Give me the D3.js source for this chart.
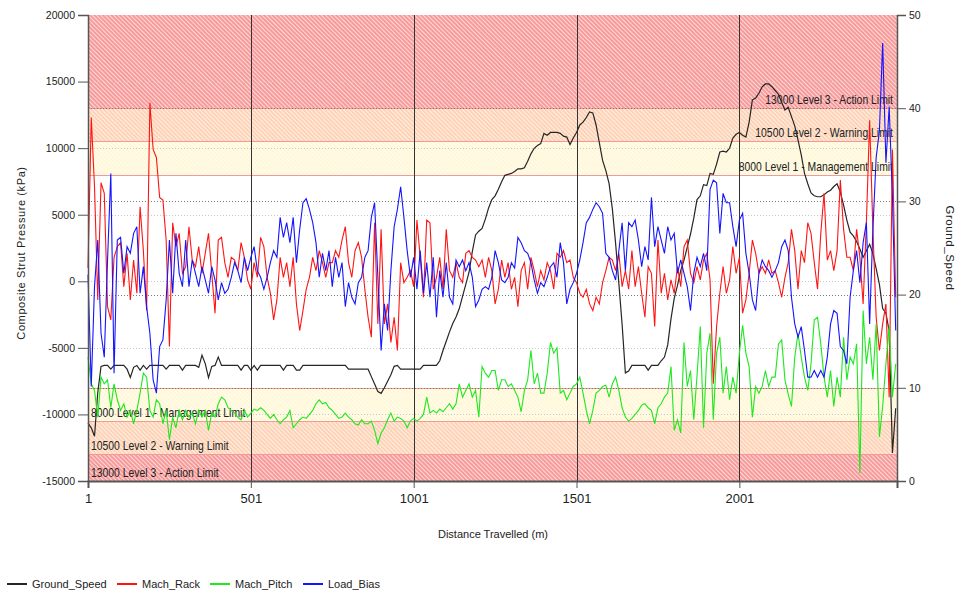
<!DOCTYPE html>
<html>
<head>
<meta charset="utf-8">
<script src="https://cdn.jsdelivr.net/npm/d3@7"></script>
<style>
  body { margin: 0; background: #fff; }
  svg text { font-family: "Liberation Sans", Arial, sans-serif; fill: #222; }
</style>
</head>
<body>
<svg width="957" height="594"></svg>
<script>
// Composite strut pressure log vs distance, with limit bands
// samples are every 10 m starting at 1
var startDistance = 1;
var sampleStep = 10;
var maxDistance = 2485;

var xTicks = [1, 501, 1001, 1501, 2001];
var leftTicks = [-15000, -10000, -5000, 0, 5000, 10000, 15000, 20000];
var rightTicks = [0, 10, 20, 30, 40, 50];

// limit levels (kPa) and their captions
var limitValues = [8000, 10500, 13000];
var limitLabels = ["8000 Level 1 - Management Limit", "10500 Level 2 - Warning Limit", "13000 Level 3 - Action Limit"];

var seriesNames = ["Ground_Speed", "Mach_Rack", "Mach_Pitch", "Load_Bias"];

// right axis series
var groundSpeed = [
  6.2, 5.7, 4.8, 9.5, 12.3, 12.4, 12.4, 12.0, 12.4, 12.4,
  12.4, 12.4, 12.0, 11.1, 12.2, 12.4, 11.9, 12.4, 12.0, 12.4,
  12.4, 12.4, 12.4, 12.4, 12.0, 12.4, 12.4, 12.4, 12.4, 11.9,
  12.4, 12.4, 12.4, 12.4, 12.2, 13.5, 12.6, 11.1, 12.3, 12.4,
  13.3, 12.4, 12.4, 12.4, 12.4, 12.4, 12.4, 11.9, 12.4, 12.4,
  11.9, 12.4, 11.9, 12.4, 12.4, 12.4, 12.4, 12.4, 12.4, 12.4,
  11.9, 12.4, 12.4, 12.4, 11.9, 11.9, 12.4, 12.4, 12.4, 12.4,
  12.4, 12.4, 12.4, 12.4, 12.4, 12.4, 12.4, 12.4, 12.4, 12.4,
  12.0, 12.0, 12.0, 12.0, 12.0, 12.0, 12.0, 11.2, 10.4, 9.6,
  9.4, 10.0, 10.7, 11.4, 12.3, 12.4, 12.0, 12.0, 12.0, 12.0,
  12.0, 12.0, 12.0, 12.4, 12.4, 12.4, 12.4, 12.4, 12.9, 14.0,
  15.0, 16.0, 16.9, 17.6, 18.5, 19.8, 21.1, 22.4, 24.6, 26.4,
  26.8, 27.1, 28.1, 29.3, 30.2, 30.6, 31.3, 32.1, 32.8, 32.9,
  33.0, 33.2, 33.5, 33.5, 33.6, 34.3, 35.1, 35.7, 36.0, 36.2,
  37.3, 37.1, 37.4, 37.4, 37.4, 37.3, 37.0, 36.9, 36.1, 36.8,
  37.4, 38.2, 38.5, 39.0, 39.6, 39.5, 38.2, 36.3, 34.4, 33.3,
  31.9, 29.2, 25.5, 21.2, 16.8, 11.6, 11.8, 12.4, 12.4, 12.4,
  12.4, 12.4, 11.9, 12.4, 12.4, 12.4, 12.9, 13.3, 14.6, 17.4,
  19.6, 21.0, 22.6, 23.7, 25.1, 26.5, 28.2, 30.2, 30.6, 31.8,
  31.7, 33.0, 32.9, 34.0, 35.3, 35.4, 35.3, 35.7, 36.8, 37.2,
  37.4, 37.1, 36.9, 38.5, 40.9, 41.1, 41.6, 42.3, 42.6, 42.6,
  42.3, 41.9, 41.5, 40.6, 39.8, 40.1, 39.1, 38.1, 36.6, 35.0,
  33.0, 31.9, 30.9, 30.6, 30.5, 30.5, 30.7, 31.0, 31.2, 31.6,
  31.9, 31.0, 29.6, 28.0, 26.7, 26.3, 25.7, 24.9, 24.0, 24.7,
  25.4, 24.4, 22.8, 21.1, 18.5, 18.0, 16.1, 3.0, 7.8
];

// left axis series (kPa)
var machRack = [
  1000, 12300, 7100, -1400, 7400, 6600, -1900, -2900, 1800, 2600,
  2900, -400, 2100, -1400, 1600, -900, 5600, 2300, -2200, 13400,
  9900, 9300, 6300, 6100, 3100, -4900, 4400, 2600, 3600, 600,
  1100, 4100, 1600, 1100, 2600, 600, 2100, 3600, 600, -2400,
  3100, 3300, 1400, 300, 1800, 1600, 800, 2900, 1800, 100,
  -600, 1400, 300, 3300, 2600, 300, -900, -2900, -1400, 1800,
  300, 1400, -400, 1800, -1700, -3700, -2200, -600, 300, 1800,
  800, 2300, 1400, 300, 1400, 1400, 2300, 1800, 3100, 4100,
  1400, 300, 2300, 2900, 1800, -600, -2700, -4200, 4400, -3200,
  3900, -3200, -1700, -4600, -2700, -5200, 1400, -100, 300, 800,
  -400, 4600, 1800, -1200, 4600, 4400, -600, 300, 1800, -600,
  3900, 800, 300, 1400, 300, -100, 2100, 2300, 1800, 1600,
  1100, 1600, 300, 1800, 800, -1700, -600, 1600, 300, 1400,
  -600, 300, -1900, 800, 1400, -600, 1800, 800, -400, 800,
  100, 1400, 800, -600, 2100, 1800, 2300, 1400, 1600, 300,
  -100, -900, -1200, -600, -1700, -2200, -1200, -1700, -100, 800,
  1800, 1600, 800, 2100, -400, 800, -600, 2300, -400, 1100,
  -900, -2700, 1100, 600, -3400, 3100, -900, 600, -1400, 100,
  -900, 1100, -400, 2600, 3100, 600, -100, 1100, 100, 1600,
  2100, 100, -7700, -3400, -900, 1100, -900, 100, 2600, 600,
  1800, -2400, -1400, 600, 3100, 2100, 600, 1100, 600, 1600,
  600, 800, -100, -1200, 300, 1400, 3900, 2300, -600, 2300,
  1400, 4400, 3600, 1400, -600, 3600, 6600, 1600, 2300, 800,
  2300, 7600, 3900, 1800, 1800, 800, 3900, 1800, -1700, 4400,
  12100, 3900, -2700, -5200, -3200, -1700, -8700, 9900, -1200
];

var machPitch = [
  -5700, -7700, -8200, -10200, -7200, -7700, -7400, -9500, -7700, -8900,
  -9700, -9200, -10200, -9700, -10700, -9700, -8400, -6900, -7200, -9700,
  -10200, -8900, -9200, -10700, -9700, -11900, -10200, -11000, -9700, -10400,
  -9700, -10200, -9900, -10700, -9700, -10200, -9700, -11200, -9900, -10200,
  -9200, -8700, -8900, -9500, -9700, -9900, -10200, -10400, -9700, -10200,
  -9900, -9600, -9700, -9500, -9700, -10000, -10300, -10000, -10400, -10700,
  -10400, -10200, -9700, -11000, -10700, -10400, -10200, -10300, -10000, -9700,
  -9200, -8900, -9200, -9100, -9500, -9700, -10000, -10300, -10200, -9900,
  -10200, -10400, -10700, -10800, -10400, -10700, -10700, -10500, -11200, -12200,
  -11400, -11000, -10400, -9900, -10500, -10200, -10300, -10500, -11000, -10500,
  -10300, -10500, -10300, -10000, -8700, -9900, -9700, -9900, -9600, -9800,
  -9500, -9200, -9600, -9200, -7700, -8700, -8200, -7700, -8700, -8200,
  -10200, -6400, -6900, -7200, -6700, -6700, -8200, -7400, -7400, -7900,
  -7700, -8200, -8700, -9800, -8200, -7400, -5200, -7700, -6900, -8400,
  -8400, -6900, -4600, -5400, -5000, -8400, -8200, -8900, -8400, -7900,
  -7700, -7200, -8400, -9700, -10700, -9700, -8400, -8200, -7900, -7800,
  -8700, -7700, -7200, -8200, -9500, -10200, -10500, -10300, -10000, -9700,
  -9300, -9200, -9500, -9700, -10700, -9500, -9200, -8700, -8400, -6400,
  -11200, -10400, -11400, -4600, -7900, -6700, -10400, -7100, -3400, -11000,
  -5400, -3900, -10400, -5400, -4200, -8400, -6400, -8900, -7200, -8400,
  -5400, -3300, -5400, -6400, -10200, -7900, -8400, -7900, -6700, -7900,
  -7200, -7200, -4700, -4400, -7400, -8500, -9400, -5700, -3900, -5700,
  -7200, -8200, -6200, -2900, -2700, -4700, -7200, -8700, -6700, -9400,
  -7200, -8700, -4200, -7400, -5700, -6200, -4700, -14400, -2200, -6200,
  -4200, -7400, -3200, -11700, -9400, -6200, -3400, -8700, -6200
];

var loadBias = [
  500, -7900, -400, 3100, -3900, -5700, 1600, 8100, -6900, 3100,
  3300, 600, 2600, 2100, 3600, 4100, -900, 1100, -1900, -3900,
  -7400, -8400, -4900, -4400, -1400, 3100, -900, 3600, 600, -400,
  3100, -400, 1600, 600, -400, 1100, 100, -900, 1100, 100,
  -1400, -100, -900, -600, 300, 1400, 800, -100, 1800, 800,
  1800, 2600, 800, 300, -600, 300, 1400, 2300, 1800, 4800,
  3300, 4400, 2900, 4800, 1400, 3900, 5900, 6200, 5400, 4400,
  2900, 300, 2100, 800, 2300, -400, 1800, 300, 1400, -1900,
  -100, -1200, -1700, -100, 300, 1800, 2300, 4800, 5900, 300,
  -5200, -1700, -3700, 800, 4100, 5400, 7100, 4800, 2300, 300,
  1800, -600, 2300, -900, 1400, -1200, 1800, -2700, 800, -1200,
  1400, -1200, -1700, 1600, 1100, 1600, 800, 1400, 300, -1900,
  -1400, -600, -400, -600, 300, 2300, 1400, 100, -100, 300,
  1400, 1000, 3300, 2900, 2300, 2100, 1400, 100, -900, -100,
  -400, 300, 1100, 1400, 300, 2900, 1400, -1700, -600, -100,
  600, 1600, 2900, 4400, 4800, 5400, 5900, 5600, 5100, 2100,
  1800, 800, 100, 2300, 4400, 800, 4400, 4100, 4600, 3100,
  1100, 2600, 1600, 6300, 2600, 4100, 3100, 2100, 4100, 3100,
  3600, 600, 1600, 600, -400, -2200, 600, 1800, 1100, 2100,
  800, 6900, 7600, 7400, 3600, 6600, 5900, 5900, 4100, 2600,
  4600, 5100, 2100, 600, -1400, -2200, 600, 1600, 1100, 800,
  300, 800, 1400, 2600, 3100, 2300, -1200, -3200, -4200, -3400,
  -5200, -7200, -7200, -6700, -7200, -6700, -7200, -5700, -3200, -2200,
  -2400, -4900, -5200, -6200, -1200, 800, 2300, -100, 2900, 4400,
  -3200, 3900, 9300, 11300, 17900, 8900, 13100, 6300, -3700
];

var seriesColors = ["#262626", "#ff1414", "#1ee81e", "#1414ff"];

// chart frame
var svg = d3.select("svg"),
  width = +svg.attr("width"),
  height = +svg.attr("height");
var margin = {top: 15, right: 60, bottom: 113, left: 88};
var plotW = width - margin.left - margin.right,
  plotH = height - margin.top - margin.bottom;

var x = d3.scaleLinear().domain([startDistance, maxDistance]).range([margin.left, margin.left + plotW]);
var yL = d3.scaleLinear().domain([-15000, 20000]).range([margin.top + plotH, margin.top]);
var yR = d3.scaleLinear().domain([0, 50]).range([margin.top + plotH, margin.top]);

// hatch patterns for the limit bands
var defs = svg.append("defs");
var hatch = [
  {id: "hatch1", base: "#fff7d6", stripe: "#fffdf2"},
  {id: "hatch2", base: "#fdd2b6", stripe: "#fff0e4"},
  {id: "hatch3", base: "#f79a9a", stripe: "#fdd9d9"}
];
hatch.forEach(function(h) {
  var p = defs.append("pattern")
    .attr("id", h.id)
    .attr("width", 3).attr("height", 3)
    .attr("patternUnits", "userSpaceOnUse")
    .attr("patternTransform", "rotate(-45)");
  p.append("rect").attr("width", 3).attr("height", 3).attr("fill", h.base);
  p.append("rect").attr("width", 1).attr("height", 3).attr("fill", h.stripe);
});

// bands: each level runs to the next level (or the axis end), both signs
var bands = [];
limitValues.forEach(function(v, k) {
  var outer = k < limitValues.length - 1 ? limitValues[k + 1] : null;
  bands.push({lo: v, hi: outer == null ? yL.domain()[1] : outer, k: k, side: "top"});
  bands.push({lo: outer == null ? yL.domain()[0] : -outer, hi: -v, k: k, side: "bottom"});
});

var bandG = svg.append("g").attr("class", "bands");
bandG.selectAll("rect")
  .data(bands)
  .enter().append("rect")
  .attr("x", margin.left)
  .attr("width", plotW)
  .attr("y", function(d) { return yL(d.hi); })
  .attr("height", function(d) { return yL(d.lo) - yL(d.hi); })
  .attr("fill", function(d) { return "url(#" + hatch[d.k].id + ")"; });

// band edge lines
var edges = [];
limitValues.forEach(function(v) { edges.push(v); edges.push(-v); });
bandG.selectAll("line")
  .data(edges)
  .enter().append("line")
  .attr("x1", margin.left).attr("x2", margin.left + plotW)
  .attr("y1", function(d) { return Math.round(yL(d)) + 0.5; })
  .attr("y2", function(d) { return Math.round(yL(d)) + 0.5; })
  .attr("stroke", "#f29a9a")
  .attr("stroke-width", 1);

// grid lines
var grid = svg.append("g").attr("class", "grid");
grid.selectAll(".gl")
  .data(leftTicks.filter(function(t) { return t > -15000 && t < 20000; }))
  .enter().append("line")
  .attr("class", "gl")
  .attr("x1", margin.left).attr("x2", margin.left + plotW)
  .attr("y1", function(d) { return Math.round(yL(d)) + 0.5; })
  .attr("y2", function(d) { return Math.round(yL(d)) + 0.5; })
  .attr("stroke", "#c8c8c8")
  .attr("stroke-dasharray", "1,2");
grid.selectAll(".gr")
  .data(rightTicks.filter(function(t) { return t > 0 && t < 50; }))
  .enter().append("line")
  .attr("class", "gr")
  .attr("x1", margin.left).attr("x2", margin.left + plotW)
  .attr("y1", function(d) { return Math.round(yR(d)) + 0.5; })
  .attr("y2", function(d) { return Math.round(yR(d)) + 0.5; })
  .attr("stroke", "#7a7a7a")
  .attr("stroke-dasharray", "1,2");
grid.selectAll(".gx")
  .data(xTicks.slice(1))
  .enter().append("line")
  .attr("class", "gx")
  .attr("x1", function(d) { return Math.round(x(d)) + 0.5; })
  .attr("x2", function(d) { return Math.round(x(d)) + 0.5; })
  .attr("y1", margin.top).attr("y2", margin.top + plotH)
  .attr("stroke", "#333");

// band captions, squeezed horizontally like the original
var capG = svg.append("g").attr("class", "captions");
bands.forEach(function(d) {
  var tx = d.side == "top" ? margin.left + plotW - 4 : margin.left + 3;
  capG.append("text")
    .attr("transform", "translate(" + tx + "," + (yL(d.lo) - 4) + ") scale(0.8,1)")
    .attr("text-anchor", d.side == "top" ? "end" : "start")
    .attr("font-size", 13)
    .attr("fill", "#333")
    .text(limitLabels[d.k]);
});

// series
var lineL = d3.line()
  .x(function(d, i) { return x(startDistance + i * sampleStep); })
  .y(function(d) { return yL(d); });
var lineR = d3.line()
  .x(function(d, i) { return x(startDistance + i * sampleStep); })
  .y(function(d) { return yR(d); });

var lines = svg.append("g").attr("class", "series");
lines.append("path").datum(groundSpeed).attr("d", lineR)
  .attr("fill", "none").attr("stroke", seriesColors[0]).attr("stroke-width", 1.2);
lines.append("path").datum(machRack).attr("d", lineL)
  .attr("fill", "none").attr("stroke", seriesColors[1]).attr("stroke-width", 1.1);
lines.append("path").datum(machPitch).attr("d", lineL)
  .attr("fill", "none").attr("stroke", seriesColors[2]).attr("stroke-width", 1.1);
lines.append("path").datum(loadBias).attr("d", lineL)
  .attr("fill", "none").attr("stroke", seriesColors[3]).attr("stroke-width", 1.1);

// axes
var axL = svg.append("g")
  .attr("transform", "translate(" + margin.left + ",0)")
  .call(d3.axisLeft(yL).tickValues(leftTicks).tickSize(10).tickPadding(3).tickFormat(function(d) { return String(d); }));
var axR = svg.append("g")
  .attr("transform", "translate(" + (margin.left + plotW) + ",0)")
  .call(d3.axisRight(yR).tickValues(rightTicks).tickSize(9).tickPadding(3).tickFormat(function(d) { return String(d); }));
var axB = svg.append("g")
  .attr("transform", "translate(0," + (margin.top + plotH) + ")")
  .call(d3.axisBottom(x).tickValues(xTicks).tickSize(7).tickPadding(6).tickFormat(function(d) { return String(d); }));

[axL, axR, axB].forEach(function(a) {
  a.select(".domain").attr("stroke", "#555").attr("stroke-width", 1.5);
  a.selectAll(".tick line").attr("stroke", "#555");
  a.selectAll("text").attr("fill", "#222").attr("font-family", "'DejaVu Sans', sans-serif");
});
axL.selectAll("text").attr("font-size", 10.5);
axR.selectAll("text").attr("font-size", 10.5);
axB.selectAll("text").attr("font-size", 13);
axB.select(".domain").attr("stroke-width", 2);

// axis titles
svg.append("text")
  .attr("transform", "translate(25,253) rotate(-90)")
  .attr("text-anchor", "middle")
  .attr("font-size", 11)
  .attr("letter-spacing", 0.6)
  .text("Composite Strut Pressure (kPa)");
svg.append("text")
  .attr("transform", "translate(946,248) rotate(90)")
  .attr("text-anchor", "middle")
  .attr("font-size", 11.5)
  .attr("letter-spacing", 0.6)
  .text("Ground_Speed");
svg.append("text")
  .attr("x", 493).attr("y", 538)
  .attr("text-anchor", "middle")
  .attr("font-size", 11)
  .text("Distance Travelled (m)");

// legend along the bottom
var legendX = [7, 117, 210, 303];
var legend = svg.append("g").attr("class", "legend");
seriesNames.forEach(function(name, i) {
  legend.append("line")
    .attr("x1", legendX[i]).attr("x2", legendX[i] + 20)
    .attr("y1", 584).attr("y2", 584)
    .attr("stroke", seriesColors[i]).attr("stroke-width", 2);
  legend.append("text")
    .attr("x", legendX[i] + 25).attr("y", 588)
    .attr("font-size", 11)
    .text(name);
});
</script>
</body>
</html>
